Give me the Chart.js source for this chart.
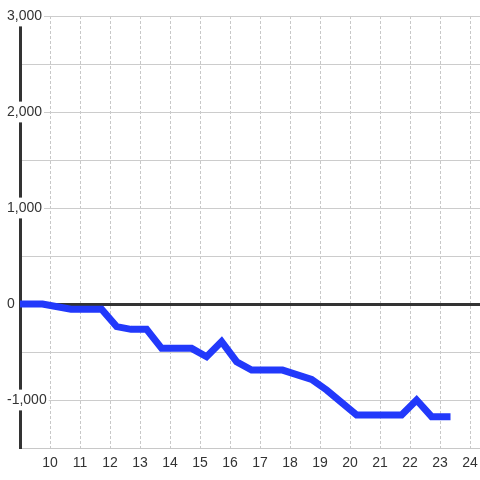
<!DOCTYPE html>
<html>
<head>
<meta charset="utf-8">
<script src="https://cdn.jsdelivr.net/npm/chart.js@4/dist/chart.umd.min.js"></script>
<style>
  html, body { margin: 0; padding: 0; background: #fff; }
  canvas { display: block; }
</style>
</head>
<body>
<canvas id="chart" width="480" height="480"></canvas>
<script>
// series
const xValues = [9, 9.75, 10.7, 11.72, 12.22, 12.7, 13.22, 13.72, 14.72, 15.22, 15.72, 16.22, 16.72, 17.75, 18.72, 19.22, 20.22, 21.72, 22.22, 22.72, 23.35];
const yValues = [0, 0, -55, -55, -236, -264, -264, -462, -462, -549, -392, -601, -688, -688, -785, -896, -1156, -1156, -1000, -1174, -1174];
const xTicks = [10, 11, 12, 13, 14, 15, 16, 17, 18, 19, 20, 21, 22, 23, 24];

const points = xValues.map((x, i) => ({ x: x, y: yValues[i] }));

const ctx = document.getElementById('chart').getContext('2d');
new Chart(ctx, {
    type: 'line',
    data: {
        datasets: [{
            data: points,
            borderColor: '#2239fb',
            borderWidth: 7,
            pointRadius: 0,
            tension: 0,
            fill: false
        }]
    },
    options: {
        responsive: false,
        animation: false,
        layout: { padding: { left: 20, right: 0, top: 16, bottom: 0 } },
        plugins: { legend: { display: false }, tooltip: { enabled: false } },
        scales: {
            x: {
                type: 'linear',
                min: 9,
                max: 24.333,
                afterBuildTicks: axis => { axis.ticks = xTicks.map(v => ({ value: v })); },
                afterFit: axis => { axis.paddingLeft = 0; axis.paddingRight = 0; axis.height = 32; },
                grid: { color: '#c8c8c8', lineWidth: 1, drawTicks: false },
                border: { color: '#c8c8c8', width: 1, dash: [3, 2] },
                ticks: {
                    padding: 7,
                    color: '#333',
                    font: { family: 'Liberation Sans, Arial, sans-serif', size: 14 },
                    maxRotation: 0
                }
            },
            y: {
                min: -1500,
                max: 3000,
                // labels sit over the axis line, so the axis takes no room
                afterFit: axis => { axis.width = 0; },
                ticks: {
                    stepSize: 500,
                    mirror: true,
                    padding: -13,
                    color: '#333',
                    font: { family: 'Liberation Sans, Arial, sans-serif', size: 14 },
                    callback: v => (v % 1000 === 0 ? v.toLocaleString('en-US') : ''),
                    showLabelBackdrop: true,
                    backdropPadding: 2,
                    backdropColor: c => (c.tick && c.tick.value % 1000 === 0 ? '#fff' : 'rgba(0,0,0,0)')
                },
                grid: {
                    drawTicks: false,
                    color: c => (c.tick && c.tick.value === 0 ? '#333' : '#cccccc'),
                    lineWidth: c => (c.tick && c.tick.value === 0 ? 3 : 1)
                },
                border: { color: '#333', width: 3 }
            }
        }
    }
});
</script>
</body>
</html>
